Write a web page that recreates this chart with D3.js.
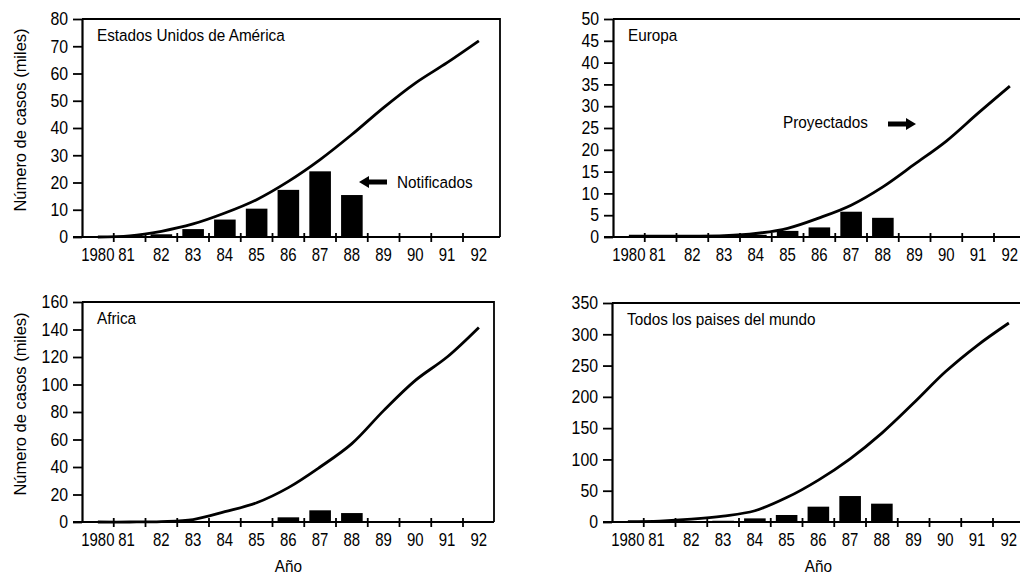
<!DOCTYPE html>
<html>
<head>
<meta charset="utf-8">
<script src="https://cdn.jsdelivr.net/npm/d3@7"></script>
<style>
  body { margin: 0; background: #fff; }
  svg { display: block; }
  text { font-family: "Liberation Sans", Arial, sans-serif; fill: #000; }
</style>
</head>
<body>
<svg id="chart" width="1020" height="575"></svg>
<script>
const years = [1980, 1981, 1982, 1983, 1984, 1985, 1986, 1987, 1988, 1989, 1990, 1991, 1992];
const yearLabels = ["1980", "81", "82", "83", "84", "85", "86", "87", "88", "89", "90", "91", "92"];

// proyectados (curva) y notificados (barras), miles de casos
const usaProjected = [0, 0.4, 2.1, 4.8, 8.8, 13.7, 20.4, 28.4, 37.6, 47.5, 56.5, 64, 72];
const usaReported = [0, 0.2, 1, 2.9, 6.4, 10.4, 17.3, 24.1, 15.4, 0, 0, 0, 0];

const europeProjected = [0.2, 0.2, 0.2, 0.3, 0.8, 2, 4.4, 7.3, 11.5, 16.7, 22, 28.4, 34.6];
const europeReported = [0.2, 0.2, 0.2, 0.2, 0.5, 1.4, 2.2, 5.8, 4.4, 0, 0, 0, 0];

const africaProjected = [0, 0, 0.3, 1.8, 7.5, 14, 25, 40, 57, 81, 103, 120, 141.5];
const africaReported = [0, 0, 0, 0, 0, 0.3, 3.4, 8.5, 6.5, 0, 0, 0, 0];

const worldProjected = [0.5, 1.5, 4.5, 9.5, 18, 39, 67, 101, 142, 190, 240, 282, 318];
const worldReported = [0, 0, 0, 2, 5.8, 11.2, 24.5, 41.5, 29.3, 0, 0, 1, 0];

const panels = [
  { title: "Estados Unidos de América", projected: usaProjected, reported: usaReported,
    left: 82, right: 500, top: 19, bottom: 237, yMax: 80, yStep: 10, yLabel: true, xLabel: false },
  { title: "Europa", projected: europeProjected, reported: europeReported,
    left: 613, right: 1026, top: 19, bottom: 237, yMax: 50, yStep: 5, yLabel: false, xLabel: false },
  { title: "Africa", projected: africaProjected, reported: africaReported,
    left: 82, right: 494, top: 302, bottom: 522, yMax: 160, yStep: 20, yLabel: true, xLabel: true },
  { title: "Todos los paises del mundo", projected: worldProjected, reported: worldReported,
    left: 612, right: 1026, top: 303, bottom: 522, yMax: 350, yStep: 50, yLabel: false, xLabel: true }
];

const svg = d3.select("#chart");
const bandW = 31.75;

// the original uses a condensed face; squeeze text horizontally around its anchor
function squeeze(sel, k) {
  sel.each(function() {
    const t = d3.select(this);
    const x = +t.attr("x") || 0, y = +t.attr("y") || 0;
    t.attr("transform", `translate(${x},${y}) scale(${k},1) translate(${-x},${-y})`);
  });
}

function drawPanel(p) {
  const g = svg.append("g");

  const x = d3.scaleBand()
    .domain(years)
    .range([p.left, p.left + years.length * bandW]);

  const y = d3.scaleLinear()
    .domain([0, p.yMax])
    .range([p.bottom, p.top]);

  // frame (top and right)
  g.append("path")
    .attr("d", `M${p.left},${p.top}H${p.right}V${p.bottom}`)
    .attr("fill", "none")
    .attr("stroke", "#000")
    .attr("stroke-width", 1.8);

  // bars
  const barW = x.bandwidth() * 0.68;
  g.append("g").selectAll("rect")
    .data(years.map((yr, i) => ({ yr, v: p.reported[i] })).filter(d => d.v > 0))
    .join("rect")
      .attr("x", d => x(d.yr) + (x.bandwidth() - barW) / 2)
      .attr("width", barW)
      .attr("y", d => y(d.v))
      .attr("height", d => p.bottom - y(d.v))
      .attr("fill", "#000");

  // projected curve
  const line = d3.line()
    .x((d, i) => x(years[i]) + x.bandwidth() / 2)
    .y(d => y(d))
    .curve(d3.curveCatmullRom.alpha(0.5));

  g.append("path")
    .datum(p.projected)
    .attr("d", line)
    .attr("fill", "none")
    .attr("stroke", "#000")
    .attr("stroke-width", 2.8)
    .attr("stroke-linejoin", "round");

  // y axis
  const yAxis = d3.axisLeft(y)
    .tickValues(d3.range(0, p.yMax + 0.001, p.yStep))
    .tickSize(9)
    .tickPadding(5)
    .tickSizeOuter(0);
  const ya = g.append("g")
    .attr("transform", `translate(${p.left},0)`)
    .call(yAxis);
  ya.select(".domain").attr("stroke-width", 2.2);
  ya.selectAll(".tick line").attr("stroke-width", 1.8);
  ya.selectAll(".tick text").attr("font-size", 18).attr("font-family", null).call(squeeze, 0.88);

  // x axis: ticks on band boundaries crossing the axis, labels centred in bands
  g.append("line")
    .attr("x1", p.left - 9).attr("x2", p.right)
    .attr("y1", p.bottom).attr("y2", p.bottom)
    .attr("stroke", "#000").attr("stroke-width", 2.2);

  g.append("g").selectAll("line")
    .data(years.slice(1))
    .join("line")
      .attr("x1", d => x(d)).attr("x2", d => x(d))
      .attr("y1", p.bottom - 4).attr("y2", p.bottom + 5)
      .attr("stroke", "#000").attr("stroke-width", 1.8);

  g.append("g").selectAll("text")
    .data(years)
    .join("text")
      .attr("x", (d, i) => x(d) + x.bandwidth() / 2 + (i === 1 ? -3 : 0))
      .attr("y", p.bottom + 24)
      .attr("text-anchor", "middle")
      .attr("font-size", 18)
      .text((d, i) => yearLabels[i])
      .call(squeeze, 0.83);

  // panel title
  g.append("text")
    .attr("x", p.left + 15)
    .attr("y", p.top + 22)
    .attr("font-size", 17)
    .text(p.title)
    .call(squeeze, 0.9);

  if (p.yLabel) {
    g.append("text")
      .attr("transform", `translate(26,${(p.top + p.bottom) / 2 - 8}) rotate(-90) scale(0.97,1)`)
      .attr("text-anchor", "middle")
      .attr("font-size", 17)
      .text("Número de casos (miles)");
  }
  if (p.xLabel) {
    g.append("text")
      .attr("x", p.left + years.length * bandW / 2)
      .attr("y", p.bottom + 50)
      .attr("text-anchor", "middle")
      .attr("font-size", 17)
      .text("Año")
      .call(squeeze, 0.9);
  }
  return g;
}

panels.forEach(drawPanel);

// annotations
function arrow(x0, x1, yc) {
  // x1 = tip
  const dir = Math.sign(x1 - x0);
  const headLen = 10;
  const hx = x1 - dir * headLen;
  return `M${x0},${yc - 2.5}H${hx}V${yc - 6}L${x1},${yc}L${hx},${yc + 6}V${yc + 2.5}H${x0}Z`;
}

svg.append("path").attr("d", arrow(387, 359, 182)).attr("fill", "#000");
svg.append("text")
  .attr("x", 397).attr("y", 188)
  .attr("font-size", 17)
  .text("Notificados")
  .call(squeeze, 0.9);

svg.append("path").attr("d", arrow(888, 916, 124)).attr("fill", "#000");
svg.append("text")
  .attr("x", 783).attr("y", 128)
  .attr("font-size", 17)
  .text("Proyectados")
  .call(squeeze, 0.9);
</script>
</body>
</html>
